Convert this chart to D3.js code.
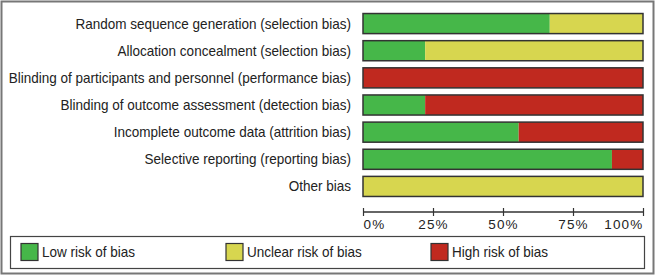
<!DOCTYPE html>
<html><head><meta charset="utf-8">
<script src="https://cdn.jsdelivr.net/npm/d3@7"></script>
<style>
html,body{margin:0;padding:0;background:#fff;}
svg{display:block;}
text{font-family:"Liberation Sans",Arial,sans-serif;fill:#222;}
</style></head>
<body>
<script>
const categories = [
  "Random sequence generation (selection bias)",
  "Allocation concealment (selection bias)",
  "Blinding of participants and personnel (performance bias)",
  "Blinding of outcome assessment (detection bias)",
  "Incomplete outcome data (attrition bias)",
  "Selective reporting (reporting bias)",
  "Other bias"
];
const lowRisk     = [66.7, 22.2, 0,   22.2, 55.6, 88.9, 0];
const unclearRisk = [33.3, 77.8, 0,   0,    0,    0,    100];
const highRisk    = [0,    0,    100, 77.8, 44.4, 11.1, 0];
const seriesNames = ["Low risk of bias", "Unclear risk of bias", "High risk of bias"];
const seriesColors = ["#46b749", "#d7d64f", "#c0291f"];
const tickValues = [0, 25, 50, 75, 100];
const tickLabels = ["0%", "25%", "50%", "75%", "100%"];

const W = 661, H = 276;
const svg = d3.select("body").append("svg").attr("width", W).attr("height", H);

// outer frame
svg.append("rect").attr("x", 1.5).attr("y", 1.5).attr("width", 652).attr("height", 272)
  .attr("fill", "#fff").attr("stroke", "#777").attr("stroke-width", 2);

const x = d3.scaleLinear().domain([0, 100]).range([363, 643]);
const y = d3.scaleBand().domain(categories).range([10, 200]).paddingInner(0.26).paddingOuter(0.13);

const rows = categories.map((c, i) => ({cat: c, vals: [lowRisk[i], unclearRisk[i], highRisk[i]]}));

const g = svg.append("g");
rows.forEach(r => {
  let acc = 0;
  r.vals.forEach((v, k) => {
    if (v > 0) {
      g.append("rect")
        .attr("x", x(acc)).attr("y", y(r.cat))
        .attr("width", x(acc + v) - x(acc)).attr("height", y.bandwidth())
        .attr("fill", seriesColors[k]);
    }
    acc += v;
  });
  g.append("rect")
    .attr("x", x(0)).attr("y", y(r.cat))
    .attr("width", x(100) - x(0)).attr("height", y.bandwidth())
    .attr("fill", "none").attr("stroke", "#333").attr("stroke-width", 1.5);
  g.append("text")
    .attr("transform", `translate(351,${y(r.cat) + y.bandwidth() / 2}) scale(0.965,1)`)
    .attr("dy", "0.36em").attr("text-anchor", "end")
    .attr("font-size", 14).text(r.cat);
});

// axis
const axisY = 212;
const axis = d3.axisBottom(x).tickValues(tickValues).tickSize(4).tickSizeOuter(0)
  .tickFormat((d, i) => tickLabels[i]);
const ag = svg.append("g").attr("transform", `translate(0,${axisY})`).call(axis);
ag.select(".domain").attr("stroke", "#333").attr("stroke-width", 1.5).attr("d", `M${x(0)},0H${x(100)}`);
ag.selectAll(".tick line").attr("stroke", "#333").attr("stroke-width", 1.2).attr("y1", -4).attr("y2", 4);
ag.selectAll(".tick text")
  .attr("y", 7).attr("dy", "0.71em")
  .attr("font-size", 13.5).attr("fill", "#222")
  .attr("letter-spacing", "1.2px")
  .attr("font-family", "'Liberation Sans',Arial,sans-serif")
  .attr("text-anchor", (d, i) => i === 0 ? "start" : (i === tickValues.length - 1 ? "end" : "middle"));

// legend
svg.append("rect").attr("x", 10.5).attr("y", 236.5).attr("width", 634).attr("height", 32)
  .attr("fill", "#fff").attr("stroke", "#444").attr("stroke-width", 1.2);
const legX = [21, 226, 431];
seriesNames.forEach((n, k) => {
  svg.append("rect").attr("x", legX[k]).attr("y", 243.5).attr("width", 17).attr("height", 17)
    .attr("fill", seriesColors[k]).attr("stroke", "#333").attr("stroke-width", 1.2);
  svg.append("text").attr("transform", `translate(${legX[k] + 21},252) scale(0.965,1)`)
    .attr("dy", "0.36em")
    .attr("font-size", 14).text(n);
});
</script>
</body></html>
